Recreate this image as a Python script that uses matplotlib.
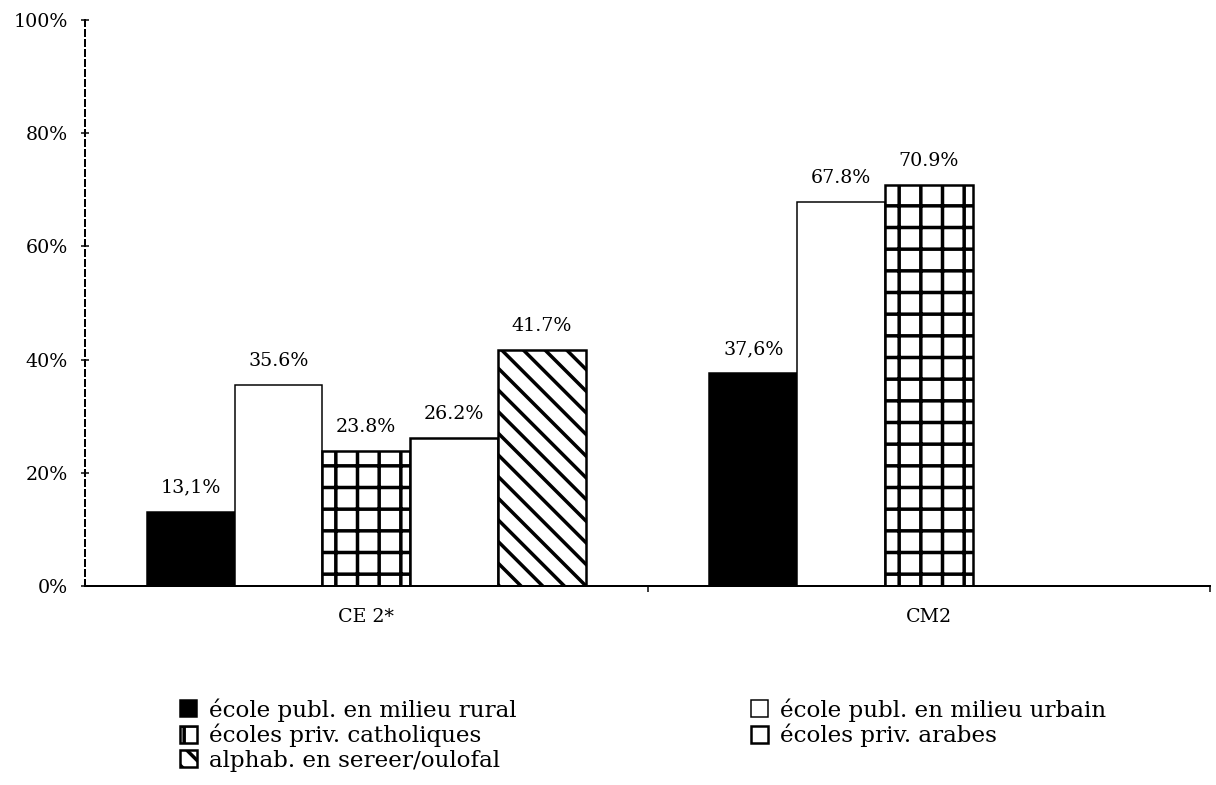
"""Bar chart: share of pupils by school type, CE 2* vs CM2."""

import matplotlib.pyplot as plt
import numpy as np

DPI = 260  # hatch spacing scales with dpi, so render at high dpi on a small canvas


def px(v):
    return v * 72 / DPI


categories = ["CE 2*", "CM2"]
series = [
    "école publ. en milieu rural",
    "école publ. en milieu urbain",
    "écoles priv. catholiques",
    "écoles priv. arabes",
    "alphab. en sereer/oulofal",
]
values = [
    [13.1, 37.6],
    [35.6, 67.8],
    [23.8, 70.9],
    [26.2, None],
    [41.7, None],
]
labels = [
    ["13,1%", "37,6%"],
    ["35.6%", "67.8%"],
    ["23.8%", "70.9%"],
    ["26.2%", None],
    ["41.7%", None],
]
styles = [
    dict(color="black", edgecolor="black", linewidth=px(1.5)),
    dict(color="white", edgecolor="black", linewidth=px(1.5)),
    dict(color="white", edgecolor="black", linewidth=px(2.5), hatch="++"),
    dict(color="white", edgecolor="black", linewidth=px(2.5)),
    dict(color="white", edgecolor="black", linewidth=px(2.5), hatch="\\\\\\\\"),
]

plt.rcParams["font.family"] = ["DejaVu Serif"]
plt.rcParams["hatch.linewidth"] = px(3.5)

fig = plt.figure(figsize=(1216 / DPI, 785 / DPI), dpi=DPI)
ax = fig.add_axes([85 / 1216, 1 - 586 / 785, 1125 / 1216, 566 / 785])

x = np.arange(len(categories))
width = 0.156
handles = []
for i, (vals, labs, st) in enumerate(zip(values, labels, styles)):
    xs = [xi + (i - 2) * width for xi, v in zip(x, vals) if v is not None]
    vs = [v for v in vals if v is not None]
    bars = ax.bar(xs, vs, width, label=series[i], **st)
    handles.append(bars)
    for b, lab in zip(bars, [l for l in labs if l is not None]):
        ax.annotate(lab, (b.get_x() + b.get_width() / 2, b.get_height()),
                    xytext=(0, px(15)), textcoords="offset points",
                    ha="center", va="bottom", fontsize=px(19))

ax.set_xlim(-0.5, 1.5)
ax.set_ylim(0, 100)
ax.set_yticks(np.arange(0, 101, 20))
ax.set_yticklabels([f"{v}%" for v in range(0, 101, 20)])
ax.tick_params(axis="y", direction="inout", length=px(8), width=px(1.5),
               labelsize=px(19), pad=px(13))
ax.set_xticks(x)
ax.set_xticklabels(categories)
ax.tick_params(axis="x", which="major", length=0, labelsize=px(19), pad=px(22))
ax.set_xticks([0.5, 1.5], minor=True)
ax.tick_params(axis="x", which="minor", direction="out", length=px(6), width=px(1.5))

for s in ["top", "right"]:
    ax.spines[s].set_visible(False)
ax.spines["left"].set_linestyle((0, (3, 2)))
ax.spines["left"].set_linewidth(px(2))
ax.spines["bottom"].set_linewidth(px(2))

order = [0, 2, 4, 1, 3]
fig.legend([handles[i] for i in order], [series[i] for i in order],
           loc="upper left", bbox_to_anchor=(180 / 1216, 1 - 698 / 785),
           ncol=2, frameon=False, fontsize=px(23),
           handlelength=0.75, handleheight=0.75, handletextpad=0.5,
           labelspacing=0.1, columnspacing=10.2, borderpad=0, borderaxespad=0)

fig.savefig("out.png", dpi=DPI)
